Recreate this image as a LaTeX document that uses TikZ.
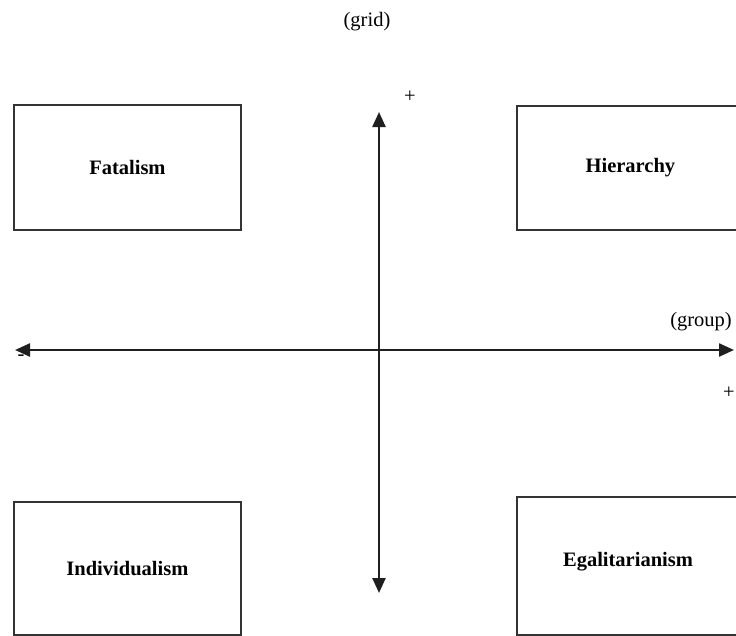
\documentclass[tikz,border=0pt]{standalone}
\usepackage{fontspec}
\setmainfont{Liberation Serif}
\usetikzlibrary{arrows.meta}
\begin{document}
\begin{tikzpicture}[x=1pt,y=-1pt,
  quadbox/.style={draw=black!80,line width=1.8pt,minimum width=227pt,anchor=north west,
    font=\fontsize{20.5}{22}\selectfont\bfseries,inner sep=0pt},
  axis/.style={line width=2.4pt,draw=black!88,{Triangle[length=15pt,width=13pt]}-{Triangle[length=15pt,width=13pt]}},
  lbl/.style={font=\fontsize{20.5}{22}\selectfont,inner sep=0pt}]
  \clip (0,0) rectangle (736,635);
  % quadrant boxes
  \node[quadbox,minimum height=125pt] (fat) at (13,104) {Fatalism};
  \node[quadbox,minimum height=124pt] (hie) at (516,105) {Hierarchy};
  \node[quadbox,minimum height=133pt] (ind) at (13,501) {Individualism};
  \node[quadbox,minimum height=138pt] (ega) at (516,496) {};
  \node[font=\fontsize{20.5}{22}\selectfont\bfseries] (egat) at (628,562) {Egalitarianism};
  % axes
  \coordinate (gtop) at (379,112);
  \coordinate (gbot) at (379,593);
  \coordinate (gleft) at (15,350);
  \coordinate (gright) at (734,350);
  \draw[axis] (gbot) -- (gtop);
  \draw[axis] (gleft) -- (gright);
  % axis labels
  \node[lbl] (grid) at (367,22) {(grid)};
  \node[lbl] (gplus) at (410,97) {+};
  \node[lbl] (group) at (701,322) {(group)};
  \node[lbl] (rplus) at (729,393) {+};
  \node[lbl] (lminus) at (21,358) {-};
\end{tikzpicture}
\end{document}
